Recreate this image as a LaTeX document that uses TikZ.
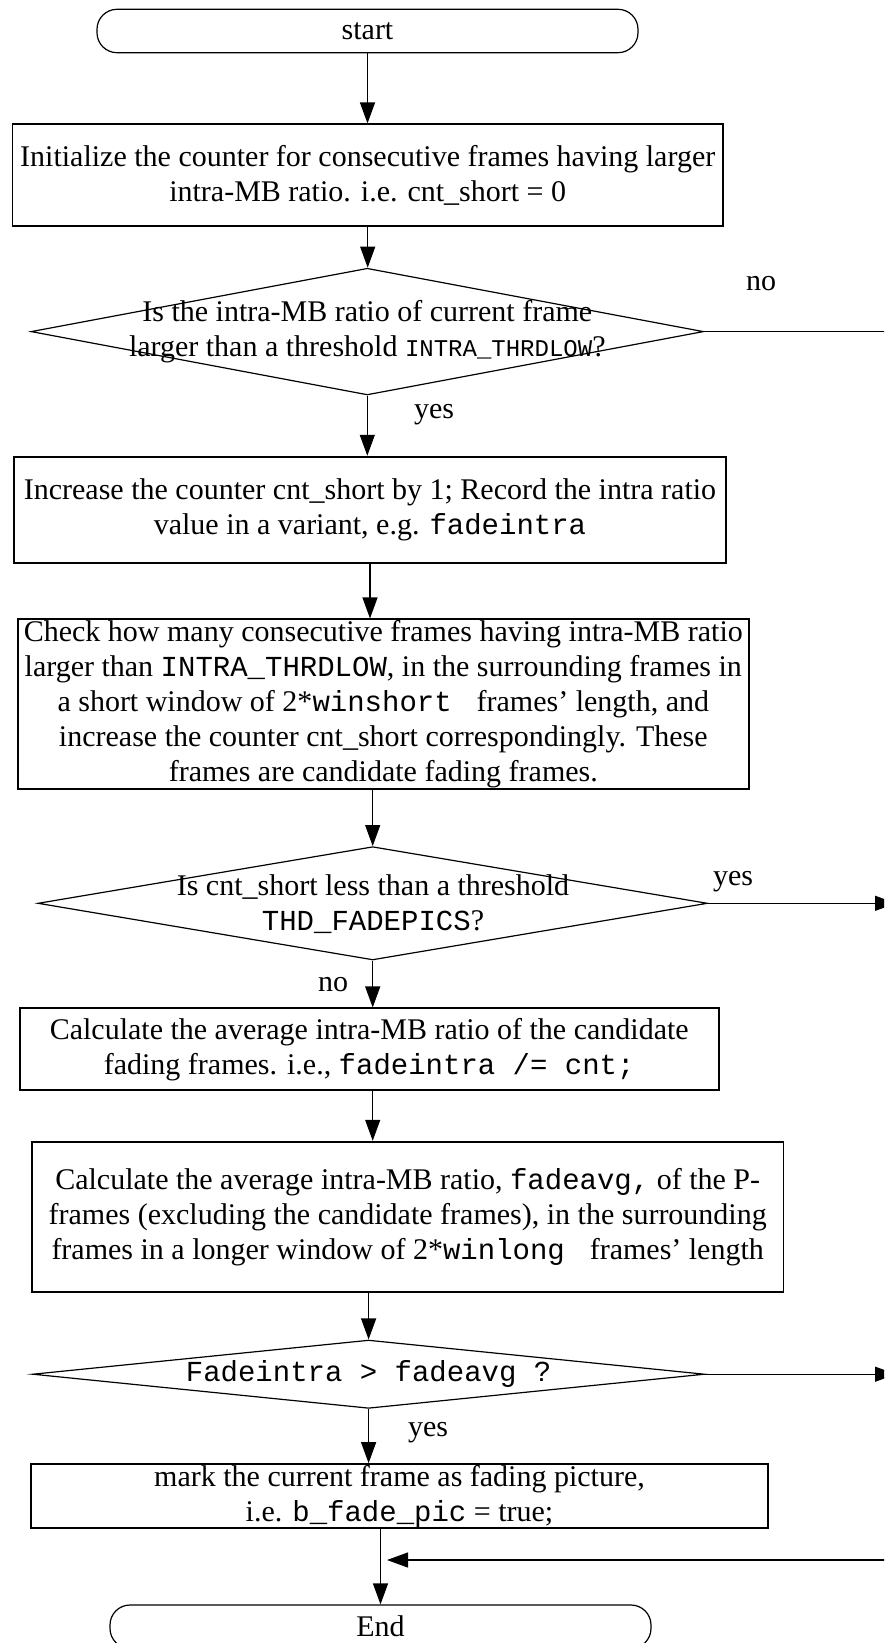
\documentclass[tikz,border=0pt]{standalone}
\usepackage{fontspec}
\setmainfont{Liberation Serif}
\newfontfamily\codefont{Liberation Mono}
\newcommand{\code}[1]{{\codefont\fontsize{14.5pt}{17.5pt}\selectfont #1}}
\newcommand{\smallcode}[1]{{\codefont\fontsize{12pt}{17.5pt}\selectfont #1}}
\usetikzlibrary{shapes.geometric,arrows.meta}

\begin{document}
\begin{tikzpicture}[x=0.5pt,y=-0.5pt,
  every node/.style={font=\fontsize{15pt}{17.5pt}\selectfont},
  txt/.style={align=center, inner sep=0pt},
  procbox/.style={draw, line width=0.9pt, inner sep=0pt, align=center},
  term/.style={draw, line width=0.6pt, rounded corners=10pt, inner sep=0pt},
  decision/.style={diamond, draw, line width=0.6pt, inner sep=0pt, aspect=1},
  flow/.style={line width=0.6pt, -{Triangle[length=10.5pt,width=7.5pt]}},
  plain/.style={line width=0.6pt}]

\useasboundingbox (0,0) rectangle (884,1643);
\clip (0,0) rectangle (884,1643);

% terminals and process boxes
\node[term, minimum width=270.5pt, minimum height=21.7pt] (start) at (367.5,31) {start};

\node[procbox, minimum width=355.3pt, minimum height=50.85pt] (init) at (367.7,175.2)
  {Initialize the counter for consecutive frames having larger\\
   intra-MB ratio. i.e. cnt\_short = 0};

% first decision
\node[decision, minimum width=336.25pt, minimum height=63.35pt] (dia1) at (367.3,331.6) {};
\node[txt] (q1) at (367.3,332)
  {Is the intra-MB ratio of current frame\\
   larger than a threshold \smallcode{INTRA\_THRDLOW}?};

\node[procbox, minimum width=356pt, minimum height=53.15pt] (box2) at (370,509.8)
  {Increase the counter cnt\_short by 1; Record the intra ratio\\
   value in a variant, e.g. \code{fadeintra}};

\node[procbox, minimum width=365.3pt, minimum height=84.85pt] (box3) at (383.3,704.2)
  {Check how many consecutive frames having intra-MB ratio\\
   larger than \code{INTRA\_THRDLOW}, in the surrounding frames in\\
   a short window of 2*\code{winshort }\ frames’ length, and\\
   increase the counter cnt\_short correspondingly. These\\
   frames are candidate fading frames.};

% second decision
\node[decision, minimum width=334.75pt, minimum height=56.65pt] (dia2) at (372.7,903.3) {};
\node[txt] (q2) at (373,904.5)
  {Is cnt\_short less than a threshold\\
   \code{THD\_FADEPICS}?};

\node[procbox, minimum width=349.5pt, minimum height=40.85pt] (box4) at (369.2,1049.2)
  {Calculate the average intra-MB ratio of the candidate\\
   fading frames. i.e., \code{fadeintra /= cnt;}};

\node[procbox, minimum width=375.75pt, minimum height=75pt] (box5) at (407.7,1216.7)
  {Calculate the average intra-MB ratio, \code{fadeavg,} of the P-\\
   frames (excluding the candidate frames), in the surrounding\\
   frames in a longer window of 2*\code{winlong }\ frames’ length};

% third decision
\node[decision, minimum width=336pt, minimum height=34.15pt] (dia3) at (368.6,1374.2) {};
\node[txt] (q3) at (368.6,1374.2) {\code{Fadeintra > fadeavg ?}};

\node[procbox, minimum width=368.5pt, minimum height=32.15pt] (box6) at (399.5,1496.2)
  {mark the current frame as fading picture,\\
   i.e. \code{b\_fade\_pic} = true;};

\node[term, minimum width=270.5pt, minimum height=21.7pt] (end) at (380.5,1626.7) {End};

% branch labels
\node[txt] (lno1) at (761,284) {no};
\node[txt] (lyes1) at (434,415) {yes};
\node[txt] (lyes2) at (733,882) {yes};
\node[txt] (lno2) at (333,985) {no};
\node[txt] (lyes3) at (428,1433) {yes};

% off-page points on the right
\coordinate (edge) at (886,0);
\coordinate (edgeout) at (896,0);
\coordinate (ret) at (888,1560);
\coordinate (retin) at (387,1560);

% main flow
\draw[flow] (start.south) -- (start.south |- init.north);
\draw[flow] (init.south) -- (init.south |- dia1.north);
\draw[flow] (dia1.south) -- (dia1.south |- box2.north);
\draw[flow] (box2.south) -- (box2.south |- box3.north);
\draw[flow] (dia2.north |- box3.south) -- (dia2.north);
\draw[flow] (dia2.south) -- (dia2.south |- box4.north);
\draw[flow] (dia2.south |- box4.south) -- (dia2.south |- box5.north);
\draw[flow] (dia3.north |- box5.south) -- (dia3.north);
\draw[flow] (dia3.south) -- (dia3.south |- box6.north);
\draw[flow] (end.north |- box6.south) -- (end.north);

% branches leaving to the right
\draw[plain] (dia1.east) -- (dia1.east -| edge);
\draw[flow] (dia2.east) -- (dia2.east -| edgeout);
\draw[flow] (dia3.east) -- (dia3.east -| edgeout);
\draw[flow] (ret) -- (retin);
\end{tikzpicture}
\end{document}
